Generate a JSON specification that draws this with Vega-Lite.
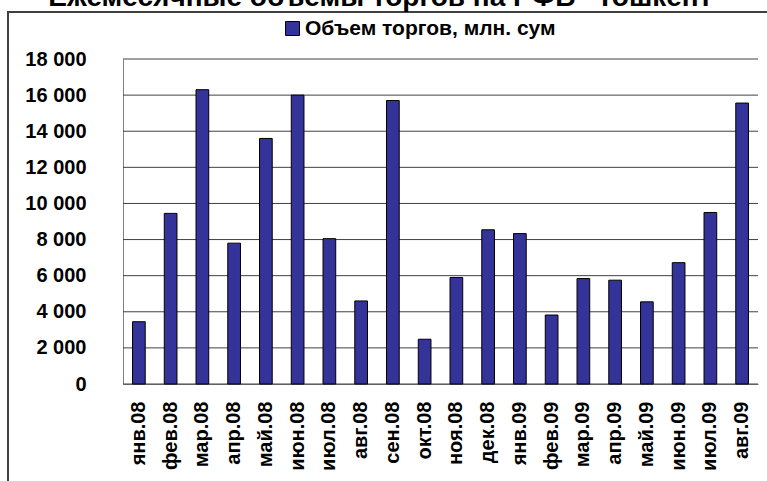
{
  "$schema": "https://vega.github.io/schema/vega-lite/v6.json",
  "width": 780,
  "height": 490,
  "autosize": {"type": "none"},
  "padding": {"left": 8, "top": 12, "right": -21, "bottom": -21},
  "background": "white",
  "config": {
    "font": "Liberation Sans",
    "view": {"stroke": "#404040", "strokeWidth": 2},
    "locale": {"number": {"decimal": ",", "thousands": " ", "grouping": [3], "currency": ["", ""]}}
  },
  "title": {
    "text": "Ежемесячные объемы торгов на РФБ \"Тошкент\"",
    "fontSize": 28,
    "fontWeight": "bold",
    "color": "black",
    "anchor": "middle",
    "frame": "group",
    "baseline": "alphabetic",
    "offset": 0,
    "dx": -11,
    "dy": 22
  },
  "resolve": {"scale": {"x": "independent"}, "axis": {"x": "independent", "y": "independent"}},
  "layer": [
    {
      "data": {"values": [{"g": 0}, {"g": 2000}, {"g": 4000}, {"g": 6000}, {"g": 8000}, {"g": 10000}, {"g": 12000}, {"g": 14000}, {"g": 16000}, {"g": 18000}]},
      "mark": {"type": "rule", "color": "#404040", "strokeWidth": 1},
      "encoding": {
        "y": {"field": "g", "type": "quantitative", "scale": {"domain": [0, 18000], "nice": false, "range": [372, 47]}, "axis": null},
        "x": {"datum": 0, "type": "quantitative", "scale": {"domain": [0, 1], "range": [115, 750]}, "axis": null},
        "x2": {"datum": 1}
      }
    },
    {
      "data": {
        "values": [
          {"month": "янв.08", "value": 3450},
          {"month": "фев.08", "value": 9450},
          {"month": "мар.08", "value": 16300},
          {"month": "апр.08", "value": 7800},
          {"month": "май.08", "value": 13600},
          {"month": "июн.08", "value": 16000},
          {"month": "июл.08", "value": 8050},
          {"month": "авг.08", "value": 4600},
          {"month": "сен.08", "value": 15700},
          {"month": "окт.08", "value": 2480},
          {"month": "ноя.08", "value": 5900},
          {"month": "дек.08", "value": 8540},
          {"month": "янв.09", "value": 8330},
          {"month": "фев.09", "value": 3820},
          {"month": "мар.09", "value": 5840},
          {"month": "апр.09", "value": 5750},
          {"month": "май.09", "value": 4550},
          {"month": "июн.09", "value": 6720},
          {"month": "июл.09", "value": 9500},
          {"month": "авг.09", "value": 15560}
        ]
      },
      "mark": {"type": "bar", "stroke": "black", "strokeWidth": 1},
      "encoding": {
        "x": {
          "field": "month",
          "type": "nominal",
          "sort": null,
          "scale": {"paddingInner": 0.6, "paddingOuter": 0.3, "range": [115, 750]},
          "axis": {
            "title": null,
            "offset": -118,
            "labelAngle": -90,
            "labelAlign": "right",
            "labelBaseline": "middle",
            "labelFont": "Liberation Sans",
            "labelFontSize": 20,
            "labelFontWeight": "bold",
            "labelColor": "black",
            "labelPadding": 17,
            "ticks": false,
            "domainColor": "#808080",
            "domainWidth": 1,
            "grid": false
          }
        },
        "y": {
          "field": "value",
          "type": "quantitative",
          "scale": {"domain": [0, 18000], "nice": false, "range": [372, 47]},
          "axis": {
            "title": null,
            "offset": -115,
            "values": [0, 2000, 4000, 6000, 8000, 10000, 12000, 14000, 16000, 18000],
            "format": ",d",
            "labelFont": "Liberation Sans",
            "labelFontSize": 20,
            "labelFontWeight": "bold",
            "labelColor": "black",
            "labelPadding": 37,
            "ticks": false,
            "domainColor": "#808080",
            "domainWidth": 1,
            "grid": false
          }
        },
        "color": {
          "datum": "Объем торгов, млн. сум",
          "scale": {"range": ["#333399"]},
          "legend": {
            "title": null,
            "orient": "none",
            "legendX": 274,
            "legendY": 6,
            "direction": "horizontal",
            "padding": 0,
            "symbolType": "square",
            "symbolSize": 196,
            "symbolStrokeColor": "black",
            "symbolStrokeWidth": 1,
            "labelFont": "Liberation Sans",
            "labelFontSize": 21,
            "labelFontWeight": "bold",
            "labelColor": "black",
            "labelOffset": 2,
            "labelLimit": 400
          }
        }
      }
    }
  ]
}
